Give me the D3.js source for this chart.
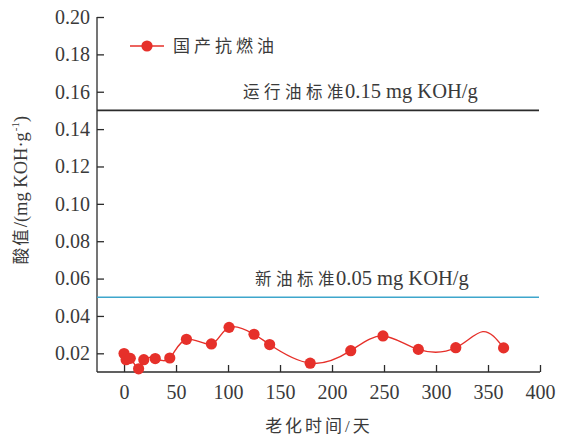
<!DOCTYPE html>
<html>
<head>
<meta charset="utf-8">
<script src="https://cdn.jsdelivr.net/npm/d3@7"></script>
<style>
  body { margin: 0; background: #fff; }
  text { font-family: "Liberation Serif", "Noto Sans CJK SC", serif; fill: #3a3a3a; }
</style>
</head>
<body>
<div id="chart"></div>
<script>
// aging days and acid values
const days = [0, 2, 6, 14, 19, 30, 44, 60, 84, 101, 125, 140, 179, 218, 249, 283, 319, 365];
const acid = [0.0199, 0.0166, 0.0173, 0.0117, 0.0166, 0.0172, 0.0175, 0.0275, 0.0250, 0.0339,
              0.0302, 0.0247, 0.0147, 0.0214, 0.0293, 0.0221, 0.0230, 0.0229];
// the smooth line also passes a crest with no marker on it
const crestDays = [345];
const crestAcid = [0.0316];
const xTicks = [0, 50, 100, 150, 200, 250, 300, 350, 400];
const yTicks = [0.02, 0.04, 0.06, 0.08, 0.10, 0.12, 0.14, 0.16, 0.18, 0.20];
const limits = [
  { value: 0.15, cjk: "运行油标准", rest: "0.15 mg KOH/g", color: "#2b2b2b" },
  { value: 0.05, cjk: "新油标准", rest: "0.05 mg KOH/g", color: "#3ea6cc" }
];
const seriesName = "国产抗燃油";

const w = 568, h = 437;
const mLeft = 97, mRight = 540, mTop = 17, mBottom = 372;

const svg = d3.select("#chart").append("svg").attr("width", w).attr("height", h);

const x = d3.scaleLinear().domain([-26, 400]).range([mLeft, mRight]);
const y = d3.scaleLinear().domain([0.01, 0.20]).range([mBottom, mTop]);

// axes, ticks pointing inward
const xAxis = d3.axisBottom(x).tickValues(xTicks).tickSizeInner(-7).tickSizeOuter(0).tickPadding(13);
const yAxis = d3.axisLeft(y).tickValues(yTicks).tickFormat(d3.format(".2f")).tickSizeInner(-7).tickSizeOuter(0).tickPadding(6);

const gx = svg.append("g").attr("transform", `translate(0,${mBottom})`).call(xAxis);
const gy = svg.append("g").attr("transform", `translate(${mLeft},0)`).call(yAxis);
gx.select(".domain").attr("d", `M${mLeft},0H${mRight}`);
gy.select(".domain").attr("d", `M0,${mTop}V${mBottom}`);
[gx, gy].forEach(g => {
  g.selectAll(".domain, line").attr("stroke", "#2b2b2b").attr("stroke-width", 1.3);
  g.selectAll("text").style("font-size", "20px").attr("fill", "#3a3a3a");
});
gy.selectAll("text").attr("dx", -1);

// limit lines
limits.forEach(l => {
  svg.append("line")
    .attr("x1", mLeft).attr("x2", mRight - 1)
    .attr("y1", y(l.value)).attr("y2", y(l.value))
    .attr("stroke", l.color).attr("stroke-width", 1.6);
});
const lt = svg.selectAll(".limit-label").data(limits).enter().append("text")
  .attr("class", "limit-label")
  .attr("x", d => d.value === 0.15 ? 243 : 255)
  .attr("y", d => y(d.value) - 12)
  .style("font-size", "20.5px");
lt.append("tspan").text(d => d.cjk).style("font-size", "16.5px").style("letter-spacing", "4.5px");
lt.append("tspan").text(d => d.rest).attr("dx", -3);

// series
const pts = days.map((d, i) => [d, acid[i]]);
const linePts = pts.concat(crestDays.map((d, i) => [d, crestAcid[i]]))
  .sort((a, b) => a[0] - b[0]);
svg.append("path")
  .datum(linePts)
  .attr("fill", "none")
  .attr("stroke", "#e6302a")
  .attr("stroke-width", 1.4)
  .attr("d", d3.line().x(d => x(d[0])).y(d => y(d[1])).curve(d3.curveNatural));
svg.selectAll(".pt").data(pts).enter().append("circle")
  .attr("class", "pt")
  .attr("cx", d => x(d[0])).attr("cy", d => y(d[1]))
  .attr("r", 5.6).attr("fill", "#e6302a");

// legend
svg.append("line").attr("x1", 130).attr("x2", 164).attr("y1", 46).attr("y2", 46)
  .attr("stroke", "#e6302a").attr("stroke-width", 1.4);
svg.append("circle").attr("cx", 147).attr("cy", 46).attr("r", 5.6).attr("fill", "#e6302a");
svg.append("text").attr("x", 173).attr("y", 52).text(seriesName)
  .style("font-size", "17px").style("letter-spacing", "4px");

// axis titles
svg.append("text").attr("x", 319).attr("y", 432).attr("text-anchor", "middle")
  .style("font-size", "17px").style("letter-spacing", "3px").text("老化时间/天");

const yt = svg.append("text").attr("transform", "translate(27,190) rotate(-90)")
  .attr("text-anchor", "middle").style("font-size", "18.5px");
yt.append("tspan").text("酸值").style("font-size", "16.5px").style("letter-spacing", "2px");
yt.append("tspan").text("/(mg KOH·g");
yt.append("tspan").text("-1").style("font-size", "11px").attr("dx", 1).attr("dy", -8);
yt.append("tspan").text(")").attr("dy", 8);
</script>
</body>
</html>
